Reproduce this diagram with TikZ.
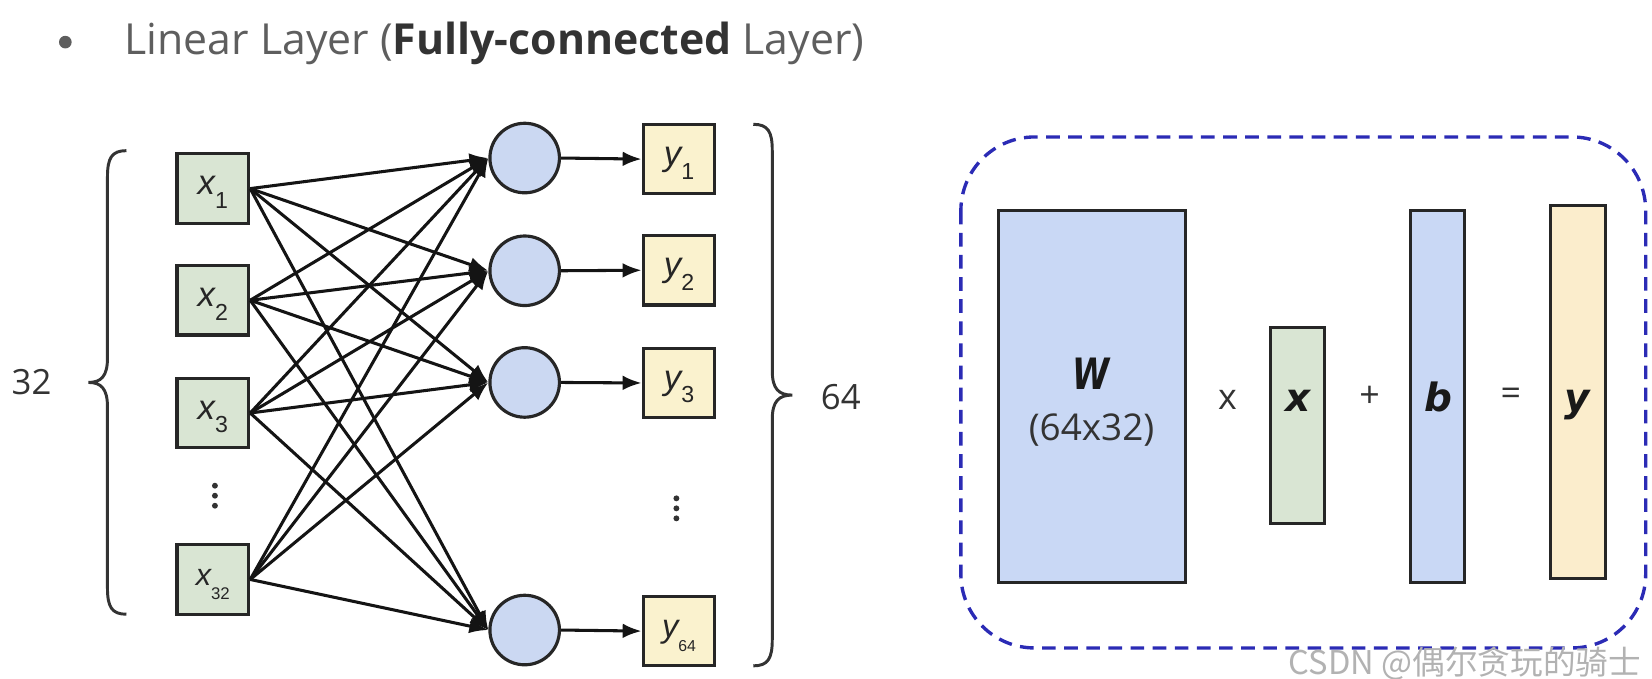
\documentclass[tikz,border=0pt]{standalone}
\usepackage{fontspec}
\setmainfont{Open Sans}
\newfontfamily\arialf{Liberation Sans}
\newfontfamily\djv{DejaVu Sans}
\newfontfamily\cjk{Noto Sans CJK SC}
\usetikzlibrary{arrows.meta}
\definecolor{xg}{HTML}{D9E5D3}
\definecolor{yy}{HTML}{FAF2CE}
\definecolor{cb}{HTML}{CBD8F2}
\definecolor{wb}{HTML}{C9D8F5}
\definecolor{ry}{HTML}{FBEDCC}
\definecolor{dashblue}{HTML}{2B2BB5}
\definecolor{tg}{HTML}{5E5E5E}
\definecolor{tdark}{HTML}{333333}
% #1 letter, #2 index, #3 letter size, #4 index size
\newcommand\lab[4]{\rule{0pt}{25pt}{\fontsize{#3}{#3}\selectfont\itshape #1}\raisebox{-13pt}{\fontsize{#4}{#4}\selectfont #2}}
\begin{document}
\begin{tikzpicture}[x=1pt,y=-1pt,
  inbox/.style={draw=black!85, line width=3pt, fill=xg, minimum width=68pt, minimum height=66pt, inner sep=0pt, font=\arialf, text=black!85},
  outbox/.style={inbox, fill=yy},
  neuron/.style={circle, draw=black!85, line width=3pt, fill=cb, minimum size=66pt, inner sep=0pt},
  edge/.style={line width=2.9pt, black!92, -{Latex[length=18pt,width=14pt]}},
  brace/.style={line width=2.8pt, tdark},
  mat/.style={draw=black!85, line width=3pt, inner sep=0pt},
  sym/.style={font=\djv\bfseries\itshape\fontsize{37}{37}\selectfont, text=black!90, inner sep=0pt, anchor=base},
  op/.style={font=\fontsize{34}{34}\selectfont, text=tdark, inner sep=0pt},
  dotf/.style={fill=tdark}
]
\useasboundingbox (0,0) rectangle (1568,644);
% title
\fill[tg] (62,40) circle (6);
\node[anchor=base west, text=tg, font=\fontsize{40.6}{40.6}\selectfont, inner sep=0pt] (title) at (118,52) {Linear Layer ({\bfseries\color{tdark}Fully-connected} Layer)};
% inputs
\node[inbox] (x1) at (202,179) {\lab{x}{1}{33}{22}};
\node[inbox] (x2) at (202,285) {\lab{x}{2}{33}{22}};
\node[inbox] (x3) at (202,392) {\lab{x}{3}{33}{22}};
\node[inbox] (x4) at (202,550) {\lab{x}{32}{29}{16}};
% neurons
\node[neuron] (c1) at (498,150) {};
\node[neuron] (c2) at (498,257) {};
\node[neuron] (c3) at (498,363) {};
\node[neuron] (c4) at (498,598) {};
% outputs
\node[outbox] (y1) at (644.5,151) {\lab{y}{1}{33}{22}};
\node[outbox] (y2) at (644.5,256.5) {\lab{y}{2}{33}{22}};
\node[outbox] (y3) at (644.5,363.5) {\lab{y}{3}{33}{22}};
\node[outbox] (y4) at (644.5,599) {\lab{y}{64}{31}{15}};
% edges
\foreach \i in {1,...,4}{\foreach \j in {1,...,4}{\draw[edge] (x\i.east) -- (c\j.west);}}
\foreach \j in {1,...,4}{\draw[edge] (c\j.east) -- (y\j.west);}
% dots
\fill[dotf] (204,461) circle (2.8) (204,470.5) circle (2.8) (204,480) circle (2.8);
\fill[dotf] (642,473) circle (2.8) (642,482.5) circle (2.8) (642,492) circle (2.8);
% braces
\draw[brace] (120,143) .. controls (106,143) and (102,150) .. (102,168) -- (102,340) .. controls (102,357) and (96,363) .. (84,363) .. controls (96,363) and (102,369) .. (102,386) -- (102,558) .. controls (102,576) and (106,583) .. (120,583);
\draw[brace] (715,118) .. controls (729,118) and (733,125) .. (733,143) -- (733,352) .. controls (733,369) and (739,375) .. (752,375) .. controls (739,375) and (733,381) .. (733,398) -- (733,607) .. controls (733,625) and (729,632) .. (715,632);
\node[op, font=\fontsize{33}{33}\selectfont] (n32) at (30,363) {32};
\node[op, font=\fontsize{33}{33}\selectfont] (n64) at (798,377) {64};
% right panel
\draw[dashblue, line width=3.2pt, dash pattern=on 13pt off 8pt, rounded corners=70pt] (912,130) rectangle (1562,615);
\node[mat, fill=wb, minimum width=177pt, minimum height=353pt] (W) at (1036.5,376.5) {};
\node[mat, fill=xg, minimum width=51pt, minimum height=186pt] (X) at (1231.5,404) {};
\node[mat, fill=wb, minimum width=51pt, minimum height=353pt] (B) at (1364.5,376.5) {};
\node[mat, fill=ry, minimum width=52pt, minimum height=354pt] (Y) at (1498,372) {};
\node[sym, font=\djv\bfseries\itshape\fontsize{41}{41}\selectfont] (Wl) at (1036,370) {\scalebox{0.78}[1]{W}};
\node[op, anchor=base, font=\fontsize{35}{35}\selectfont] (Wd) at (1036,418) {(64x32)};
\node[sym] (Xl) at (1232,391) {x};
\node[sym] (Bl) at (1365,391) {b};
\node[sym] (Yl) at (1497,391) {y};
\node[op, anchor=base] (times) at (1165,389) {x};
\node[op] (plus) at (1300,377) {+};
\node[op] (eq) at (1434,377) {=};
% watermark
\node[anchor=east, font=\cjk\fontsize{31}{31}\selectfont, text=black!30, inner sep=0pt] (wm) at (1558,630) {CSDN @偶尔贪玩的骑士};
\end{tikzpicture}
\end{document}
